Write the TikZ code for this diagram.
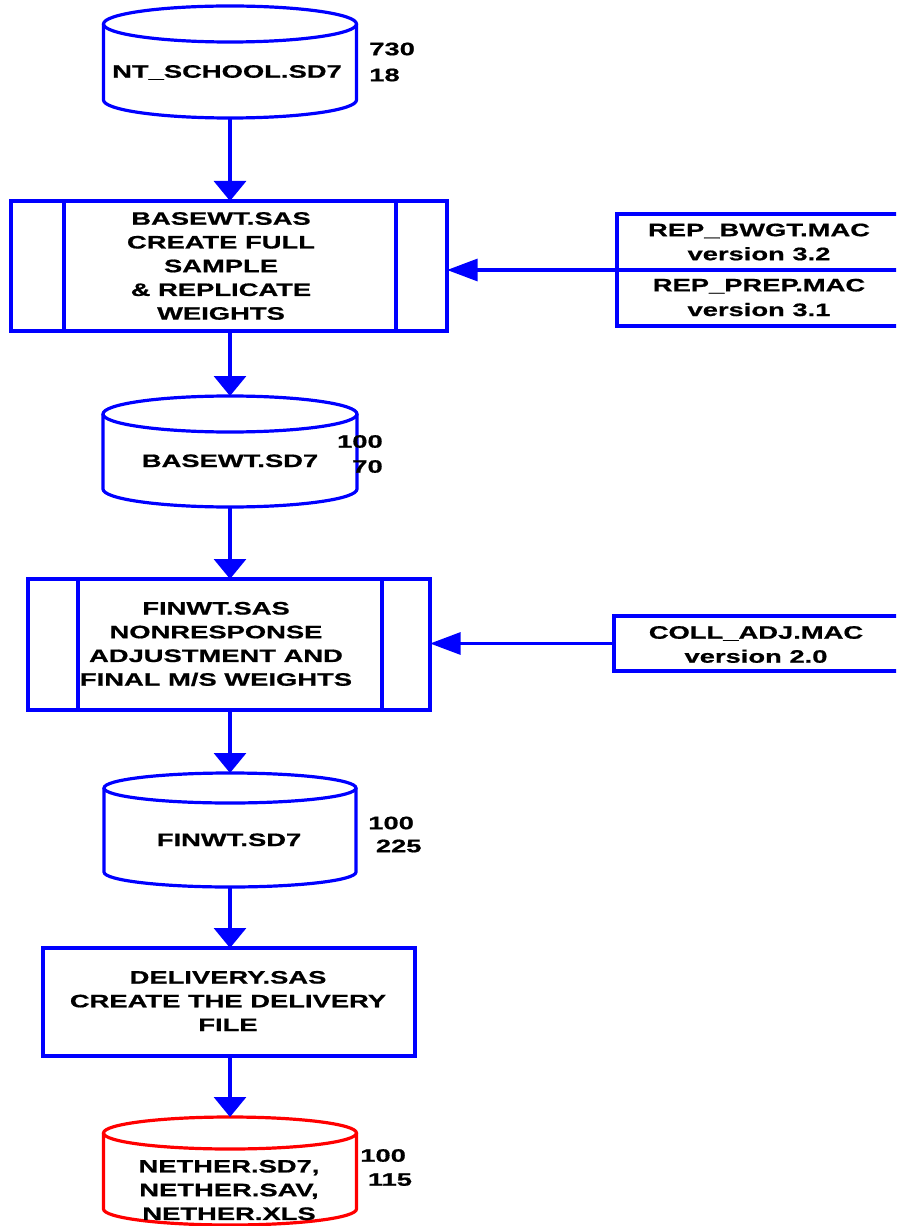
\documentclass[tikz,border=0pt]{standalone}
\usepackage{fontspec}
\setmainfont{Liberation Sans}[FakeStretch=1.52, BoldFeatures={FakeBold=0.8}]
\usetikzlibrary{arrows.meta}
\definecolor{flowblue}{RGB}{0,0,255}
\definecolor{flowred}{RGB}{255,0,0}
% data store drawn as a cylinder: #1 name, #2 centre x, #3 top-ellipse centre y,
% #4 bottom-arc centre y, #5 x radius, #6 y radius, #7 colour (units: 0.75pt)
\newcommand\datastore[7]{%
  \node[inner sep=0pt, outer sep=0pt, minimum width={2*#5*0.75pt},
        minimum height={(#4-#3+2*#6)*0.75pt}] (#1) at (#2,{-(#3+#4)/2}) {};
  \draw[#7, lw] (#2-#5,-#3) -- (#2-#5,-#4)
     arc[start angle=180, end angle=360, x radius={#5*0.75pt}, y radius={#6*0.75pt}]
     -- (#2+#5,-#3);
  \draw[#7, lw] (#2,-#3) ellipse[x radius={#5*0.75pt}, y radius={#6*0.75pt}];
}
\begin{document}
\begin{tikzpicture}[x=0.75pt,y=0.75pt,
  lw/.style={line width=2.4pt},
  txt/.style={font=\fontsize{13.5pt}{17.8pt}\selectfont\bfseries, align=center,
              inner sep=0pt, text=black},
  num/.style={font=\fontsize{13.5pt}{19pt}\selectfont\bfseries, align=left,
              inner sep=0pt, anchor=west, text=black},
  procbox/.style={draw=flowblue, lw, inner sep=0pt, outer sep=0pt},
  macbox/.style={draw=flowblue, lw, inner sep=0pt, outer sep=0pt},
  flowdown/.style={draw=flowblue, lw, -{Triangle[length=15pt,width=24pt]}},
  flowleft/.style={draw=flowblue, lw, -{Triangle[length=23pt,width=16.5pt]}},
]
\useasboundingbox (0,0) rectangle (896,-1226);
\clip (0,0) rectangle (896,-1226);
\fill[white] (0,0) rectangle (896,-1226);

% data stores
\datastore{ntschool}{230}{24}{100}{126.5}{18}{flowblue}
\datastore{basewtdb}{230}{414}{489}{127}{18}{flowblue}
\datastore{finwtdb}{230}{788}{872}{126}{15}{flowblue}
\datastore{nether}{230}{1133}{1209}{126.5}{16}{flowred}

% program boxes
\node[procbox, minimum width={436*0.75pt}, minimum height={130*0.75pt}] (basewt) at (229,-266) {};
\draw[flowblue, lw] ([xshift=39.75pt]basewt.north west) -- ([xshift=39.75pt]basewt.south west);
\draw[flowblue, lw] ([xshift=-38.25pt]basewt.north east) -- ([xshift=-38.25pt]basewt.south east);

\node[procbox, minimum width={402*0.75pt}, minimum height={131*0.75pt}] (finwt) at (229,-644.5) {};
\draw[flowblue, lw] ([xshift=37.5pt]finwt.north west) -- ([xshift=37.5pt]finwt.south west);
\draw[flowblue, lw] ([xshift=-36pt]finwt.north east) -- ([xshift=-36pt]finwt.south east);

\node[procbox, minimum width={372*0.75pt}, minimum height={108*0.75pt}] (delivery) at (229,-1002) {};

% macro boxes
\node[macbox, minimum width={323*0.75pt}, minimum height={112*0.75pt}] (rep) at (778.5,-270) {};
\draw[flowblue, lw] (rep.west) -- (rep.east);
\node[macbox, minimum width={326*0.75pt}, minimum height={55*0.75pt}] (coll) at (777,-643.5) {};

% texts
\node[txt, anchor=base] (ntschoolname) at (227,-77.7) {NT\_SCHOOL.SD7};
\node[txt] (basewtsas) at (221,-266) {BASEWT.SAS\\CREATE FULL\\SAMPLE\\\& REPLICATE\\WEIGHTS};
\node[txt, anchor=base] (basewtname) at (230,-467) {BASEWT.SD7};
\node[txt] (finwtsas) at (216,-644) {FINWT.SAS\\NONRESPONSE\\ADJUSTMENT AND\\FINAL M/S WEIGHTS};
\node[txt, anchor=base] (finwtname) at (229,-846) {FINWT.SD7};
\node[txt] (deliverysas) at (228,-1001) {DELIVERY.SAS\\CREATE THE DELIVERY\\FILE};
\node[txt] (nethername) at (229,-1190) {NETHER.SD7,\\NETHER.SAV,\\NETHER.XLS};
\node[txt, font=\fontsize{13.5pt}{18pt}\selectfont\bfseries] (repbwgt) at (759,-242) {REP\_BWGT.MAC\\version 3.2};
\node[txt, font=\fontsize{13.5pt}{18.5pt}\selectfont\bfseries] (repprep) at (759,-297.5) {REP\_PREP.MAC\\version 3.1};
\node[txt, font=\fontsize{13.5pt}{18pt}\selectfont\bfseries] (colladj) at (756,-644.5) {COLL\_ADJ.MAC\\version 2.0};

% record counts
\node[num, font=\fontsize{13.5pt}{19.5pt}\selectfont\bfseries] (ntcount) at (369,-62) {730\\18};
\node[num, align=right, anchor=east, font=\fontsize{13.5pt}{18.75pt}\selectfont\bfseries] (basecount) at (383,-454) {100\\70};
\node[num, font=\fontsize{13.5pt}{17.25pt}\selectfont\bfseries] (fincount) at (368,-834.5) {100\\\ 225};
\node[num, font=\fontsize{13.5pt}{18pt}\selectfont\bfseries] (nethercount) at (360,-1167.5) {100\\\ 115};

% flow
\draw[flowdown] (ntschool.south) -- (ntschool.south |- basewt.north);
\draw[flowdown] (basewtdb.north |- basewt.south) -- (basewtdb.north);
\draw[flowdown] (basewtdb.south) -- (basewtdb.south |- finwt.north);
\draw[flowdown] (finwtdb.north |- finwt.south) -- (finwtdb.north);
\draw[flowdown] (finwtdb.south) -- (finwtdb.south |- delivery.north);
\draw[flowdown] (nether.north |- delivery.south) -- (nether.north);
\draw[flowleft] (rep.west) -- (rep.west -| basewt.east);
\draw[flowleft] (coll.west) -- (coll.west -| finwt.east);
\end{tikzpicture}
\end{document}
